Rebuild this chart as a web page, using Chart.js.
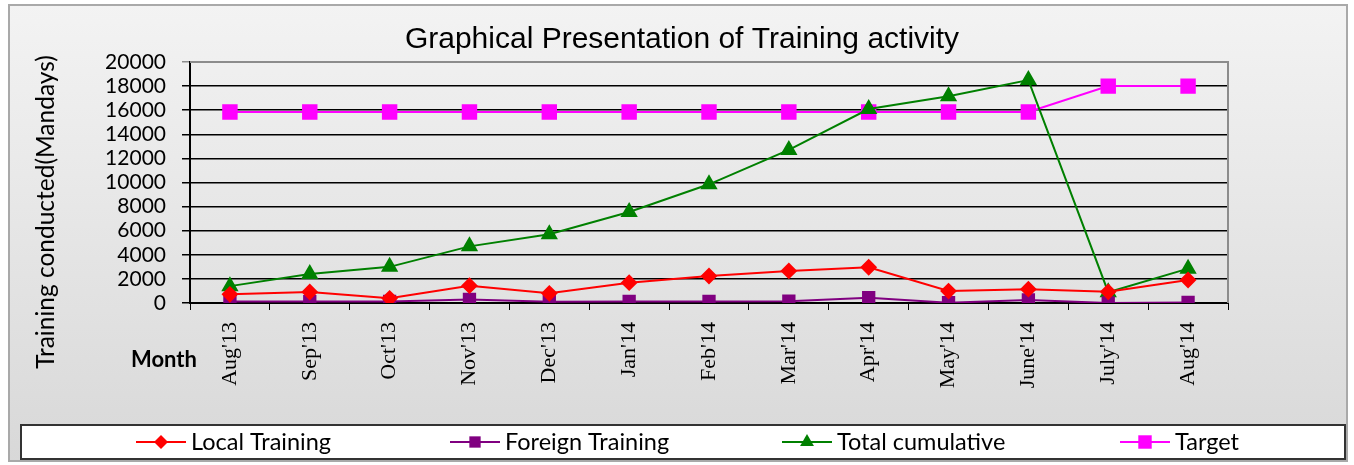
<!DOCTYPE html>
<html>
<head>
<meta charset="utf-8">
<title>Graphical Presentation of Training activity</title>
<script src="https://cdn.jsdelivr.net/npm/chart.js@4/dist/chart.umd.min.js"></script>
<style>
  html, body { margin: 0; padding: 0; background: #fff; }
  #wrap { width: 1354px; height: 465px; position: relative; }
</style>
</head>
<body>
<div id="wrap"><canvas id="trainingChart" width="1354" height="465"></canvas></div>
<script>
// data
const months = ["Aug'13", "Sep'13", "Oct'13", "Nov'13", "Dec'13", "Jan'14", "Feb'14",
  "Mar'14", "Apr'14", "May'14", "June'14", "July'14", "Aug'14"];
const localTraining = [720, 910, 390, 1440, 800, 1690, 2240, 2660, 2970, 990, 1150, 930, 1910];
const foreignTraining = [120, 120, 130, 300, 110, 130, 130, 150, 440, 20, 250, 0, 50];
const totalCumulative = [1400, 2400, 3000, 4700, 5700, 7550, 9850, 12700, 16100, 17150, 18500, 900, 2850];
const target = [15850, 15850, 15850, 15850, 15850, 15850, 15850, 15850, 15850, 15850, 15850, 18000, 18000];
const yTicks = [0, 2000, 4000, 6000, 8000, 10000, 12000, 14000, 16000, 18000, 20000];

const chartTitle = "Graphical Presentation of Training activity";
const yTitle = "Training conducted(Mandays)";
const xTitle = "Month";

// legend marker centres (x) in the bottom box
const legendX = [161, 475, 807, 1145];

function drawMarker(ctx, style, x, y, r, color) {
  ctx.fillStyle = color;
  ctx.beginPath();
  if (style === "rectRot") {
    ctx.moveTo(x, y - r);
    ctx.lineTo(x + r, y);
    ctx.lineTo(x, y + r);
    ctx.lineTo(x - r, y);
  } else if (style === "triangle") {
    ctx.moveTo(x, y - r);
    ctx.lineTo(x + r * 0.866, y + r * 0.5);
    ctx.lineTo(x - r * 0.866, y + r * 0.5);
  } else {
    const s = r * Math.SQRT1_2;
    ctx.rect(x - s, y - s, 2 * s, 2 * s);
  }
  ctx.closePath();
  ctx.fill();
}

// background, frames, axis captions and the legend box
const framePlugin = {
  id: "framePlugin",
  beforeDraw(chart) {
    const ctx = chart.ctx;
    ctx.save();
    ctx.fillStyle = "#ffffff";
    ctx.fillRect(0, 0, chart.width, chart.height);
    const g = ctx.createLinearGradient(0, 4, 0, 462);
    g.addColorStop(0, "#f3f3f3");
    g.addColorStop(1, "#d8d8d8");
    ctx.fillStyle = g;
    ctx.fillRect(8, 4, 1340, 458);
    ctx.strokeStyle = "#a9a9a9";
    ctx.lineWidth = 2;
    ctx.strokeRect(9, 5, 1338, 456);
    ctx.restore();
  },
  beforeDatasetsDraw(chart) {
    const ctx = chart.ctx;
    const a = chart.chartArea;
    ctx.save();
    ctx.strokeStyle = "#8c8c8c";
    ctx.lineWidth = 2;
    ctx.beginPath();
    ctx.moveTo(a.left, a.top);
    ctx.lineTo(a.right, a.top);
    ctx.lineTo(a.right, a.bottom);
    ctx.stroke();
    ctx.restore();
  },
  afterDraw(chart) {
    const ctx = chart.ctx;
    ctx.save();
    ctx.fillStyle = "#000";
    ctx.textAlign = "center";
    ctx.textBaseline = "middle";
    // x caption, left of the month labels
    ctx.font = "bold 22px Lato";
    ctx.fillText(xTitle, 164, 360);
    // y caption, rotated
    ctx.save();
    ctx.translate(46, 212);
    ctx.rotate(-Math.PI / 2);
    ctx.font = "24.5px Lato";
    ctx.fillText(yTitle, 0, 0);
    ctx.restore();

    // legend box
    ctx.fillStyle = "#ffffff";
    ctx.fillRect(20, 424, 1325, 35);
    ctx.strokeStyle = "#333333";
    ctx.lineWidth = 2;
    ctx.strokeRect(21, 425, 1324, 34);
    ctx.font = "23.5px Lato";
    ctx.textAlign = "left";
    chart.data.datasets.forEach((ds, i) => {
      const cx = legendX[i];
      const cy = 442;
      ctx.strokeStyle = ds.borderColor;
      ctx.lineWidth = 2;
      ctx.beginPath();
      ctx.moveTo(cx - 25, cy);
      ctx.lineTo(cx + 25, cy);
      ctx.stroke();
      drawMarker(ctx, ds.pointStyle, cx, cy, ds.pointRadius, ds.borderColor);
      ctx.fillStyle = "#000";
      ctx.fillText(ds.label, cx + 30, cy);
    });
    ctx.restore();
  }
};

const ctx = document.getElementById("trainingChart");
new Chart(ctx, {
  type: "line",
  data: {
    labels: months,
    datasets: [
      {
        label: "Local Training",
        data: localTraining,
        borderColor: "#ff0000",
        backgroundColor: "#ff0000",
        pointStyle: "rectRot",
        pointRadius: 7,
        borderWidth: 2,
      },
      {
        label: "Foreign Training",
        data: foreignTraining,
        borderColor: "#800080",
        backgroundColor: "#800080",
        pointStyle: "rect",
        pointRadius: 8,
        borderWidth: 2,
      },
      {
        label: "Total cumulative",
        data: totalCumulative,
        borderColor: "#008000",
        backgroundColor: "#008000",
        pointStyle: "triangle",
        pointRadius: 8,
        borderWidth: 2,
      },
      {
        label: "Target",
        data: target,
        borderColor: "#ff00ff",
        backgroundColor: "#ff00ff",
        pointStyle: "rect",
        pointRadius: 9.5,
        borderWidth: 2,
      },
    ],
  },
  options: {
    responsive: false,
    animation: false,
    layout: { padding: { top: 0, left: 10, right: 0, bottom: 0 } },
    elements: {
      line: { tension: 0 },
      point: { borderWidth: 0, hoverRadius: 8 },
    },
    plugins: {
      legend: { display: false },
      tooltip: { enabled: false },
      title: {
        display: true,
        text: chartTitle,
        color: "#000",
        font: { family: "Liberation Sans", size: 30, weight: "normal" },
        padding: { top: 22, bottom: 4 },
      },
    },
    scales: {
      x: {
        offset: true,
        grid: {
          offset: true,
          drawOnChartArea: false,
          color: "#000",
          tickLength: 7,
        },
        border: { color: "#000", width: 2 },
        ticks: {
          autoSkip: false,
          minRotation: 90,
          maxRotation: 90,
          padding: 12,
          color: "#000",
          font: { family: "Liberation Serif", size: 22 },
        },
        afterFit(scale) {
          scale.height = 162;
        },
      },
      y: {
        min: 0,
        max: 20000,
        afterBuildTicks(scale) {
          scale.ticks = yTicks.map((v) => ({ value: v }));
        },
        grid: {
          color: (c) => (c.tick && c.tick.value === 20000 ? "#8c8c8c" : "#000"),
          lineWidth: 1.5,
          tickLength: 8,
        },
        border: { color: "#000", width: 2 },
        ticks: {
          autoSkip: false,
          padding: 16,
          color: "#000",
          font: { family: "Lato", size: 21 },
          callback: (v) => String(v),
        },
        afterFit(scale) {
          scale.width = 180;
        },
      },
      yRight: {
        position: "right",
        display: true,
        grid: { display: false, drawTicks: false },
        border: { display: false },
        ticks: { display: false },
        afterFit(scale) {
          scale.width = 126;
        },
      },
    },
  },
  plugins: [framePlugin],
});
</script>
</body>
</html>
